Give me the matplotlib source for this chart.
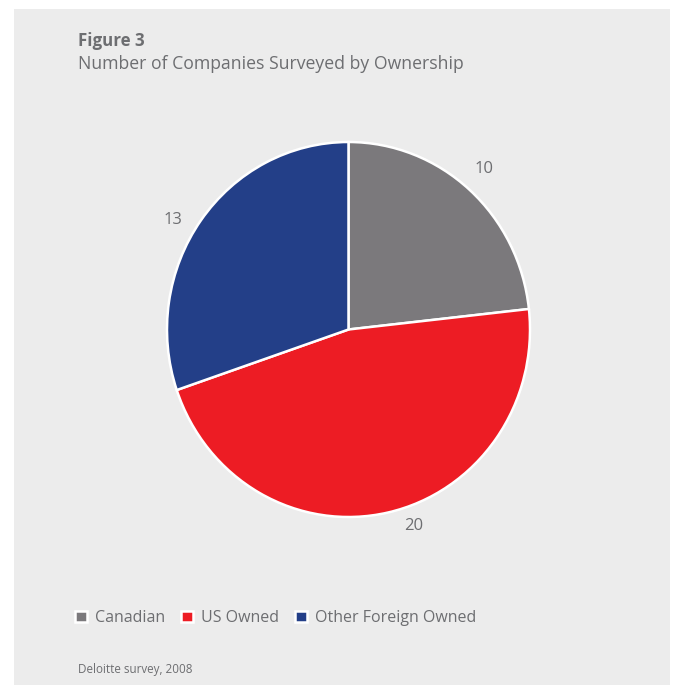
import matplotlib.pyplot as plt
from matplotlib.patches import Rectangle

# Companies surveyed, by ownership
categories = ["Canadian", "US Owned", "Other Foreign Owned"]
counts = [10, 20, 13]
colors = ["#7b797c", "#ed1c24", "#233f88"]

title = "Figure 3"
subtitle = "Number of Companies Surveyed by Ownership"
source = "Deloitte survey, 2008"

text_grey = "#6d6e71"
plt.rcParams['font.family'] = ['Open Sans', 'DejaVu Sans']

W, H = 673, 685
fig = plt.figure(figsize=(W / 100, H / 100), dpi=100)
fig.patch.set_facecolor("white")

# grey panel behind everything
fig.add_artist(Rectangle((14 / W, 0), 656 / W, 1 - 9 / H, transform=fig.transFigure,
                         facecolor="#ececec", edgecolor="none", zorder=-10))

# pie axes, slightly taller than wide
cx, cy = 348.5, H - 329.5
rx, ry = 181.5, 187.5
ax = fig.add_axes([(cx - 1.25 * rx) / W, (cy - 1.25 * ry) / H, 2.5 * rx / W, 2.5 * ry / H])
wedges, texts = ax.pie(counts, labels=[str(c) for c in counts], colors=colors,
                       startangle=90, counterclock=False, labeldistance=1.13,
                       wedgeprops=dict(edgecolor="white", linewidth=1.8),
                       textprops=dict(color=text_grey, fontsize=12))
ax.set_aspect('auto')
ax.set_xlim(-1.25, 1.25)
ax.set_ylim(-1.25, 1.25)

# small nudges so the numbers sit where the layout wants them
nudges = [(-11, 3), (11, 10), (1, -14)]
for t, (dx, dy) in zip(texts, nudges):
    x, y = t.get_position()
    t.set_position((x + dx / rx, y + dy / ry))

fig.text(78 / W, 1 - 41 / H, title, fontsize=12.2, fontweight="bold", color=text_grey, va="center")
fig.text(78 / W, 1 - 64 / H, subtitle, fontsize=12.7, color=text_grey, va="center")
fig.text(78 / W, 1 - 669 / H, source, fontsize=8.4, color=text_grey, va="center")

leg = fig.legend(wedges, categories, loc="center left", bbox_to_anchor=(61 / W, 1 - 618 / H),
                 ncol=3, frameon=False, fontsize=11.5, handlelength=0.75, handleheight=0.75,
                 handletextpad=0.5, columnspacing=1.0, labelcolor=text_grey)

fig.savefig("out.png", dpi=100, facecolor=fig.get_facecolor())
